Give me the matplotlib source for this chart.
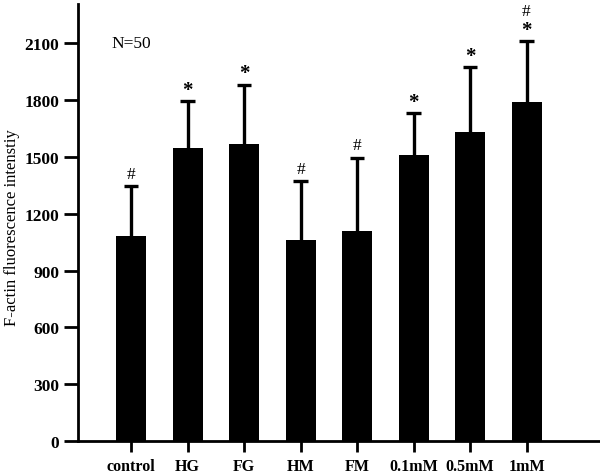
import matplotlib.pyplot as plt
import numpy as np

groups = ['control', 'HG', 'FG', 'HM', 'FM', '0.1mM', '0.5mM', '1mM']
means = [1085, 1545, 1571, 1063, 1111, 1508, 1630, 1788]
sd = [262, 249, 310, 309, 386, 222, 343, 323]
marks = ['#', '*', '*', '#', '#', '*', '*', '*#']

plt.rcParams['font.family'] = ['Liberation Serif', 'DejaVu Serif']
plt.rcParams['font.weight'] = 'bold'

fig = plt.figure(figsize=(6, 4.77), dpi=100)
ax = fig.add_axes([0.13, 0.0734, 0.87, 0.917])

x = np.arange(len(groups))
tops = np.array(means) + np.array(sd)
ax.bar(x, means, width=0.53, color='black')
# upper error bars only
ax.vlines(x, means, tops, color='black', linewidth=2.4)
ax.hlines(tops, x - 0.13, x + 0.13, color='black', linewidth=2.4)

for i in range(len(groups)):
    if '*' in marks[i]:
        ax.annotate('*', (x[i], tops[i]), xytext=(0, 1), textcoords='offset points',
                    ha='center', va='bottom', fontsize=15)
    if marks[i] == '#':
        ax.annotate('#', (x[i], tops[i]), xytext=(0, 3), textcoords='offset points',
                    ha='center', va='bottom', fontsize=12.5, fontweight='normal')
    elif '#' in marks[i]:
        ax.annotate('#', (x[i], tops[i]), xytext=(0, 16), textcoords='offset points',
                    ha='center', va='bottom', fontsize=12.5, fontweight='normal')

ax.text(0, 2100, 'N=50', ha='center', va='center', fontsize=12.5, fontweight='normal')

ax.set_xlim(-0.94, 8.3)
ax.set_ylim(0, 2310)
ax.set_yticks(np.arange(0, 2101, 300))
ax.set_xticks(x)
ax.set_xticklabels(groups, fontsize=11.5)
ax.tick_params(axis='y', labelsize=12.5, length=10, width=2)
ax.tick_params(axis='x', length=8, width=2, pad=4)
ax.set_ylabel('F-actin fluorescence intenstiy', fontsize=12)
ax.yaxis.set_label_coords(-0.112, 0.49)

ax.spines['top'].set_visible(False)
ax.spines['right'].set_visible(False)
ax.spines['left'].set_linewidth(2)
ax.spines['bottom'].set_linewidth(2)

fig.savefig('out.png', dpi=100)
